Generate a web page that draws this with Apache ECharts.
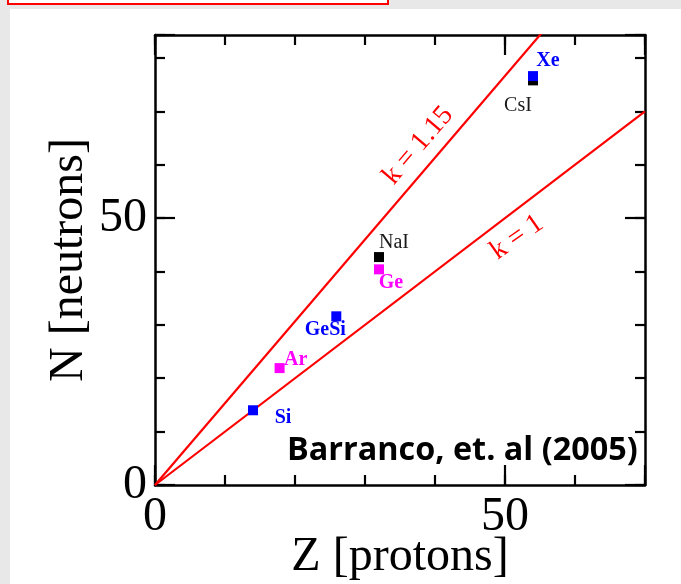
<!DOCTYPE html>
<html><head><meta charset="utf-8">
<script src="https://cdn.jsdelivr.net/npm/echarts@6/dist/echarts.min.js"></script>
<style>html,body{margin:0;padding:0;background:#fff}#c{width:681px;height:584px}</style>
</head><body><div id="c"></div>
<script>
// ---- data ----
const targets   = ['Si', 'Ar', 'GeSi', 'Ge', 'NaI', 'CsI', 'Xe'];
const protonsZ  = [14, 17.8, 25.9, 32, 32, 54, 54];
const neutronsN = [14, 21.9, 31.6, 40.4, 42.7, 75.8, 76.6];
const lineK1    = [[0, 0], [70, 70]];
const lineK115  = [[0, 0], [70, 107.3]];
const xTickLabels = [0, 50];
const yTickLabels = [0, 50];
const xRange = [0, 70];
const yRange = [0, 84.3];

// ---- styles ----
const BLUE = '#0000ff', MAG = '#ff00ff', BLK = '#000000';
const pointStyle = {
  Si:   {color: BLUE, bold: true,  off: [30, 8]},
  Ar:   {color: MAG,  bold: true,  off: [16, -8]},
  GeSi: {color: BLUE, bold: true,  off: [-11, 14]},
  Ge:   {color: MAG,  bold: true,  off: [12, 13]},
  NaI:  {color: BLK,  bold: false, off: [15, -14], text: '#1a1a1a'},
  CsI:  {color: BLK,  bold: false, off: [-15, 25], text: '#1a1a1a'},
  Xe:   {color: BLUE, bold: true,  off: [15, -15]}
};
const SERIF = '"Liberation Serif", "DejaVu Serif", serif';

function mkAxis(dim, position, interval, tickLen, withLine, withLabel, extra) {
  const range = dim === 'x' ? xRange : yRange;
  const labels = dim === 'x' ? xTickLabels : yTickLabels;
  return Object.assign({
    type: 'value', position: position, min: range[0], max: range[1], interval: interval,
    axisLine: {show: withLine, onZero: false, lineStyle: {color: '#000', width: 2.5}},
    axisTick: {show: true, inside: true, length: tickLen, lineStyle: {color: '#000', width: 2.2}},
    axisLabel: {show: withLabel, margin: 8, fontFamily: SERIF, fontSize: 48, color: '#000',
      formatter: v => labels.indexOf(v) >= 0 ? String(v) : ''},
    splitLine: {show: false}
  }, extra || {});
}

const chart = echarts.init(document.getElementById('c'), null, {renderer: 'canvas'});

const scatterData = targets.map((name, i) => {
  const s = pointStyle[name];
  return {
    name: name,
    value: [protonsZ[i], neutronsN[i]],
    itemStyle: {color: s.color, opacity: 1},
    label: {show: true, position: 'inside', offset: s.off, formatter: name,
      color: s.text || s.color, fontFamily: SERIF, fontSize: 20,
      fontWeight: s.bold ? 'bold' : 'normal'}
  };
});

chart.setOption({
  animation: false,
  backgroundColor: '#ffffff',
  grid: {left: 155, right: 36, top: 35, bottom: 99, containLabel: false, outerBoundsMode: 'none'},
  xAxis: [
    mkAxis('x', 'bottom', 10, 10, true, true, {
      name: 'Z [protons]', nameLocation: 'middle', nameGap: 48, nameMoveOverlap: false,
      nameTextStyle: {fontFamily: SERIF, fontSize: 48, color: '#000'}}),
    mkAxis('x', 'bottom', 50, 20, false, false),
    mkAxis('x', 'top', 10, 10, true, false),
    mkAxis('x', 'top', 50, 20, false, false)
  ],
  yAxis: [
    mkAxis('y', 'left', 10, 10, true, true, {
      name: 'N [neutrons]', nameLocation: 'middle', nameGap: 62, nameMoveOverlap: false,
      nameTextStyle: {fontFamily: SERIF, fontSize: 48, color: '#000'}}),
    mkAxis('y', 'left', 50, 20, false, false),
    mkAxis('y', 'right', 10, 10, true, false),
    mkAxis('y', 'right', 50, 20, false, false)
  ],
  series: [
    {type: 'line', data: lineK1, showSymbol: false, clip: true,
      lineStyle: {color: '#ff0000', width: 2.2}, z: 2},
    {type: 'line', data: lineK115, showSymbol: false, clip: true,
      lineStyle: {color: '#ff0000', width: 2.2}, z: 2},
    {type: 'scatter', data: scatterData, symbol: 'rect', symbolSize: 10, z: 3}
  ]
});

// annotations
const pK115 = chart.convertToPixel({gridIndex: 0}, [37.6, 63.6]);
const pK1 = chart.convertToPixel({gridIndex: 0}, [51.7, 46.4]);
chart.setOption({
  graphic: [
    {type: 'rect', shape: {x: 0, y: 0, width: 681, height: 9}, style: {fill: '#e8e8e8'}, z: 100},
    {type: 'rect', shape: {x: 0, y: 0, width: 10, height: 584}, style: {fill: '#e8e8e8'}, z: 100},
    {type: 'rect', shape: {x: 8, y: -5, width: 380, height: 9}, style: {fill: '#ffffff', stroke: '#ff0000', lineWidth: 2}, z: 101},
    {type: 'text', x: pK115[0], y: pK115[1], rotation: 49.5 * Math.PI / 180, z: 50,
      style: {text: 'k = 1.15', fill: '#ff0000', font: '28px ' + SERIF, textAlign: 'center', textVerticalAlign: 'middle'}},
    {type: 'text', x: pK1[0], y: pK1[1], rotation: 35 * Math.PI / 180, z: 50,
      style: {text: 'k = 1', fill: '#ff0000', font: '28px ' + SERIF, textAlign: 'center', textVerticalAlign: 'middle'}},
    {type: 'text', x: 287, y: 451, z: 50,
      style: {text: 'Barranco, et. al (2005)', fill: '#000', font: 'bold 32.4px "Open Sans", "Noto Sans", sans-serif', textAlign: 'left', textVerticalAlign: 'middle'}}
  ]
});
</script>
</body></html>
